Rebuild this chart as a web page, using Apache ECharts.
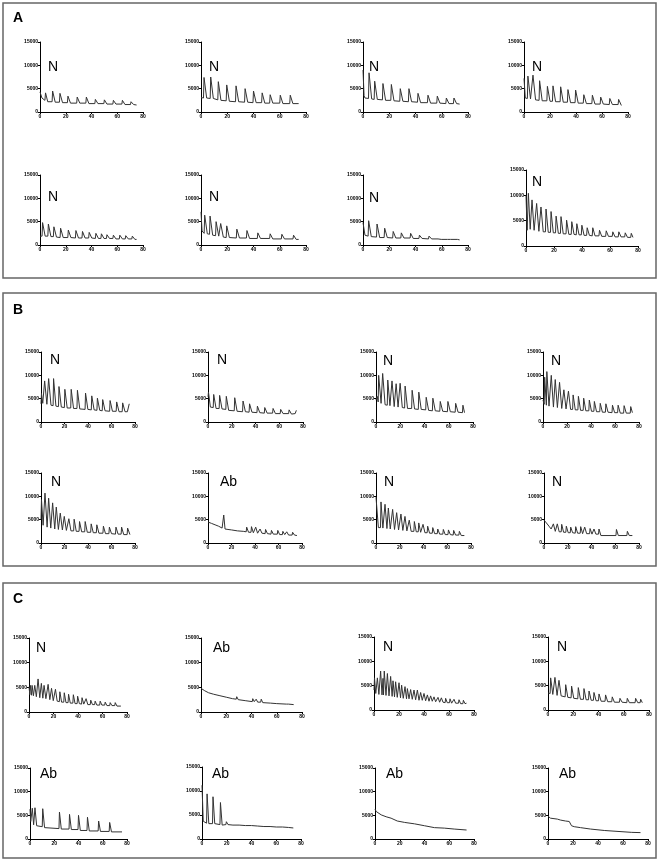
<!DOCTYPE html>
<html><head><meta charset="utf-8">
<script src="https://cdn.jsdelivr.net/npm/echarts@6/dist/echarts.min.js"></script>
<style>html,body{margin:0;padding:0;background:#fff}#c{width:662px;height:864px}</style>
</head><body><div id="c"></div>
<script>
const xTicks = [0, 20, 40, 60, 80];
const yTicks = [0, 5000, 10000, 15000];
const panelLetters = ['A', 'B', 'C'];
const labelsA = ['N','N','N','N','N','N','N','N'];
const labelsB = ['N','N','N','N','N','Ab','N','N'];
const labelsC = ['N','Ab','N','N','Ab','Ab','Ab','Ab'];

const A1 = [[0,4300],[1.5,3000],[2.5,2600],[3.8,2500],[4.3,4100],[6,2200],[9.4,2200],[9.8,4500],[11.8,2100],[15.1,2100],[15.5,4000],[17.5,2000],[21.3,2000],[21.7,3400],[23.7,1900],[28.5,1900],[28.9,3200],[30.9,1900],[35.6,1900],[36,3200],[38,1800],[42.6,1800],[43,2700],[45,1800],[49.6,1800],[50,2600],[52,1700],[56.6,1700],[57,2500],[59,1700],[63.6,1700],[64,2500],[66,1600],[70.3,1600],[70.7,2200],[72.7,1600],[75,1500]];
const A2 = [[0,3100],[1.9,3000],[2.3,7400],[4.3,3000],[7,2900],[7.4,7500],[9.4,2900],[12.8,2600],[13.2,6500],[15.2,2500],[19.2,2400],[19.6,5800],[21.6,2300],[26.3,2200],[26.7,5600],[28.7,2200],[33.2,2100],[33.6,5000],[35.6,2100],[39.6,2000],[40,4500],[42,2000],[46.2,2000],[46.6,4100],[48.6,1900],[52.3,1900],[52.7,3700],[54.7,1900],[60,1900],[60.4,3600],[62.4,1800],[67.6,1800],[68,3600],[70,1800],[74.4,1800]];
const A3 = [[0,9000],[0.8,3500],[1.5,3000],[4.2,2900],[4.6,8400],[6.6,2800],[8.5,2700],[8.9,6600],[10.9,2700],[14.8,2600],[15.2,6100],[17.2,2500],[21.2,2500],[21.6,5900],[23.6,2400],[28,2300],[28.4,5000],[30.4,2300],[34.6,2200],[35,5000],[37,2200],[41.5,2100],[41.9,4000],[43.9,2000],[49.1,2000],[49.5,3600],[51.5,1900],[56.2,1900],[56.6,3400],[58.6,1900],[63.1,1800],[63.5,3000],[65.5,1800],[68.9,1800],[69.3,3000],[71.3,1800],[73.6,1700]];
const A4 = [[0,7200],[1,3000],[2.6,2900],[3,7700],[5,2800],[6.5,2700],[6.9,7900],[8.9,2600],[11.6,2500],[12,6700],[14,2400],[17.6,2400],[18,5500],[20,2300],[21.9,2300],[22.3,5600],[24.3,2200],[27.8,2200],[28.2,5400],[30.2,2100],[33.4,2100],[33.8,4800],[35.8,2000],[39.3,2000],[39.7,4700],[41.7,1900],[45.6,1900],[46,3700],[48,1800],[52.2,1800],[52.6,3600],[54.6,1700],[58.6,1700],[59,3200],[61,1700],[65.6,1600],[66,2900],[68,1600],[72.4,1600],[72.8,2700],[74.9,1400]];
const A5 = [[0,1900],[1.6,1900],[2,4800],[4,1900],[6.1,1900],[6.5,4500],[8.5,1800],[10.4,1800],[10.8,3900],[12.8,1700],[15.6,1600],[16,3600],[18,1600],[21.6,1600],[22,3200],[24,1600],[27.5,1500],[27.9,3100],[29.9,1500],[32.6,1500],[33,2900],[35,1500],[37.8,1500],[38.2,2700],[40.2,1500],[43,1400],[43.4,2500],[45.4,1400],[47.3,1400],[47.7,2400],[49.7,1400],[51.6,1400],[52,2200],[54,1400],[56.6,1400],[57,2100],[59,1300],[61.6,1300],[62,2100],[64,1300],[66.2,1300],[66.6,2000],[68.6,1300],[71.3,1300],[71.7,1900],[73.7,1200],[75,1200]];
const A6 = [[0,7100],[0.8,3000],[2.4,2500],[2.8,6400],[4.8,2400],[6.5,2300],[6.9,6200],[8.9,2100],[11.1,2000],[11.5,5000],[13.5,1900],[14.6,1900],[15,4600],[17,1700],[19.2,1600],[19.6,4100],[21.6,1600],[26.9,1500],[27.3,3400],[29.3,1500],[34.6,1500],[35,3100],[37,1400],[42.9,1400],[43.3,2600],[45.3,1400],[52.3,1400],[52.7,2400],[54.7,1300],[61.2,1300],[61.6,2300],[63.6,1300],[70.1,1300],[70.5,2100],[72.5,1200],[74.4,1200]];
const A7 = [[0,4800],[1.5,2100],[3.9,1900],[4.3,5200],[6.3,1800],[10.3,1700],[10.7,4500],[12.7,1600],[16.1,1600],[16.5,3600],[18.5,1600],[22.6,1500],[23,2900],[25,1500],[28.8,1500],[29.2,2600],[31.2,1500],[35.9,1500],[36.3,2500],[38.3,1400],[42.6,1400],[43,2100],[45,1400],[49.9,1300],[50.3,1900],[52.3,1300],[57.2,1300],[57.6,1600],[59.6,1200],[64.3,1200],[64.7,1600],[66.7,1200],[71.9,1200],[72.3,1500],[73.6,1100]];
const A8 = [[0,10000],[0.8,3100],[1.3,3200],[1.7,10400],[3,3300],[3.9,3200],[4.3,9100],[5.8,3100],[7.2,3000],[7.6,8400],[9.2,2900],[10.3,2900],[10.7,7700],[12.3,2800],[13.9,2800],[14.3,7300],[15.9,2700],[17.5,2700],[17.9,6800],[19.5,2600],[21.1,2600],[21.5,5900],[23.1,2500],[24.6,2500],[25,5800],[26.6,2400],[28.6,2400],[29,5100],[30.6,2300],[32.3,2300],[32.7,4800],[34.3,2300],[35.9,2200],[36.3,4400],[37.9,2200],[39.5,2200],[39.9,4100],[41.5,2100],[43.3,2100],[43.7,3600],[45.3,2100],[47.3,2000],[47.7,3600],[49.3,2000],[52.1,2000],[52.5,3100],[54.1,1900],[56.9,1900],[57.3,3000],[58.9,1900],[61.6,1900],[62,2800],[63.6,1800],[65.9,1800],[66.3,2800],[67.9,1800],[70.5,1800],[70.9,2600],[72.5,1700],[74.8,1700],[75.2,2500],[76.4,1700]];

const B1 = [[0,3900],[0.4,6100],[1.5,4000],[2.7,3900],[3.1,8800],[5,3800],[6.1,3700],[6.5,9300],[8.5,3600],[10.3,3500],[10.7,9300],[12.7,3400],[14.9,3300],[15.3,7600],[17.3,3200],[19.9,3100],[20.3,7000],[22.3,3000],[25.3,3000],[25.7,7000],[27.7,2900],[30.6,2900],[31,6800],[33,2800],[37.5,2700],[37.9,6200],[39.9,2700],[42.8,2600],[43.2,5600],[45.2,2600],[47.6,2500],[48,5100],[50,2500],[52.1,2400],[52.5,4800],[54.5,2400],[58.4,2300],[58.8,4600],[60.8,2300],[64,2300],[64.4,4300],[66.4,2200],[69.1,2200],[69.5,4100],[71.5,2200],[73.5,2200],[75.1,3900]];
const B2 = [[0,5400],[0.4,6400],[2,3200],[4.4,3100],[4.8,5900],[6.8,2900],[9.4,2900],[9.8,5700],[11.8,2800],[15,2700],[15.4,5500],[17.4,2500],[22.1,2400],[22.5,5200],[24.5,2300],[29.1,2200],[29.5,4500],[31.5,2200],[34.6,2100],[35,3900],[37,2100],[41.2,2000],[41.6,3400],[43.6,2000],[47.4,1900],[47.8,3100],[49.8,1900],[54.4,1900],[54.8,2900],[56.8,1800],[60.8,1800],[61.2,2700],[63.2,1800],[67.9,1800],[68.3,2600],[70.3,1700],[73.4,1800],[74.4,2500]];
const B3 = [[0,4700],[1,5500],[1.8,4300],[2.2,10000],[4.2,4000],[5.1,3900],[5.5,10400],[7.5,3700],[9.3,3600],[9.7,9000],[11.5,3500],[12.8,3400],[13.2,8800],[15,3300],[16.2,3300],[16.6,8200],[18.2,3200],[19.5,3200],[19.9,8300],[21.7,3100],[23.6,3000],[24,7700],[26,2900],[29.4,2900],[29.8,6800],[31.8,2800],[34.9,2700],[35.3,6400],[37.3,2700],[41,2600],[41.4,5300],[43.4,2500],[46.5,2400],[46.9,5100],[48.9,2400],[52.6,2300],[53,4400],[55,2300],[58.9,2200],[59.3,4400],[61.3,2200],[65.3,2100],[65.7,4000],[67.7,2100],[71.3,2000],[71.7,3600],[73,2000]];
const B4 = [[0,4700],[1,3800],[1.4,9600],[2.8,3600],[3.2,10800],[5,3400],[6.5,3300],[6.9,10000],[8.7,3200],[9.8,3200],[10.2,9100],[12,3100],[13.4,3000],[13.8,8500],[15.6,2900],[17,2900],[17.4,6900],[19.2,2800],[20.8,2800],[21.2,6600],[23,2700],[24.7,2700],[25.1,5800],[26.9,2600],[29.1,2600],[29.5,5500],[31.3,2500],[33.5,2500],[33.9,5100],[35.7,2400],[38.2,2400],[38.6,4700],[40.4,2300],[42.4,2300],[42.8,4400],[44.6,2200],[47.3,2200],[47.7,4000],[49.5,2100],[52,2100],[52.4,3900],[54.2,2100],[57.5,2000],[57.9,3600],[59.7,2000],[62.2,2000],[62.6,3600],[64.4,1900],[67.2,1900],[67.6,3500],[69.4,1900],[72.7,1900],[73.1,3300],[74.5,2000]];
const B5 = [[0,5000],[0.4,9300],[1.8,3800],[3,3600],[3.4,10700],[5.2,3400],[6.1,3300],[6.5,9600],[8.3,3200],[9.5,3100],[9.9,8600],[11.7,3000],[12.6,3000],[13,7700],[14.8,2900],[16,2900],[16.4,6400],[18.2,2800],[19.4,2800],[19.8,5700],[21.6,2700],[23.3,2700],[23.7,5200],[25.5,2600],[27.8,2600],[28.2,5100],[30,2500],[32.4,2500],[32.8,4600],[34.6,2400],[37.2,2400],[37.6,4600],[39.4,2300],[42.3,2300],[42.7,4100],[44.5,2200],[47.1,2200],[47.5,3900],[49.3,2100],[52.7,2100],[53.1,3600],[54.9,2000],[57.8,2000],[58.2,3400],[60,2000],[63.4,1900],[63.8,3400],[65.6,1900],[68.2,1900],[68.6,3400],[70.4,1800],[73.3,1800],[73.7,3200],[75.7,1800]];
const B6 = [[0,4500],[3,4200],[6,3900],[9,3600],[12,3200],[13,3100],[13.4,6000],[14.5,3000],[17,2900],[20,2800],[25,2600],[30,2500],[32.5,2400],[32.9,3400],[34.5,2300],[36.6,2300],[37,3500],[38.6,2200],[40.2,2200],[40.6,3400],[42.2,2100],[43.9,2100],[44.3,3000],[45.9,2100],[48.6,2000],[49,2900],[50.6,2000],[53.6,1900],[54,2700],[55.6,1900],[59,1900],[59.4,2700],[61,1800],[63.3,1800],[63.7,2500],[65.3,1800],[66.6,1800],[67,2400],[68.6,1700],[71.6,1700],[72,2300],[73.6,1700],[75.7,1600]];
const B7 = [[0,9800],[0.6,9900],[2,3300],[3.8,3300],[4.2,8800],[5.8,3200],[7.2,3200],[7.6,8300],[9.2,3100],[10,3100],[10.4,7500],[12,3000],[13.6,3000],[14,7200],[15.6,2900],[17,2900],[17.4,6500],[19,2800],[20.6,2800],[21,6200],[22.6,2700],[24,2700],[24.4,5700],[26,2600],[27.6,2600],[28,4900],[29.6,2500],[31.9,2500],[32.3,4600],[33.9,2400],[35.6,2400],[36,4300],[37.6,2300],[39.2,2300],[39.6,4000],[41.2,2200],[43.1,2200],[43.5,3600],[45.1,2100],[47.4,2100],[47.8,3300],[49.4,2000],[51.6,2000],[52,3000],[53.6,1900],[56.3,1900],[56.7,2900],[58.3,1800],[60.6,1800],[61,2800],[62.6,1800],[65,1700],[65.4,2700],[67,1700],[69.8,1700],[70.2,2500],[71.8,1600],[74.4,1600]];
const B8 = [[0,4900],[2,4300],[4.2,3600],[6,3000],[7.5,2800],[7.9,4100],[9.5,2500],[10.8,2400],[11.2,4100],[12.8,2400],[14.5,2400],[14.9,4000],[16.5,2300],[18.4,2300],[18.8,3600],[20.4,2200],[22.1,2200],[22.5,3400],[24.1,2200],[26.3,2100],[26.7,3500],[28.3,2100],[30.5,2100],[30.9,3500],[32.5,2000],[33.9,2000],[34.3,3400],[35.9,2000],[38.4,2000],[38.8,3100],[40.4,1900],[41.7,1900],[42.1,3000],[43.7,1900],[45.9,1900],[46.3,3000],[47.9,1600],[60.6,1600],[61,2900],[62.6,1600],[69.8,1600],[70.2,2500],[71.8,1600],[74.4,1600]];

const C1 = [[0,5100],[0.7,3500],[1.1,5400],[2.1,3400],[2.5,5400],[3.6,3300],[4.3,3200],[4.7,5400],[6,3100],[7,3000],[7.4,6700],[8.8,2900],[9.7,2900],[10.1,5800],[11.3,2800],[11.9,2800],[12.3,5400],[13.8,2700],[15.2,2600],[15.6,5600],[17,2500],[18,2400],[18.4,4800],[19.8,2300],[21.2,2300],[21.6,4600],[23,2200],[24.8,2100],[25.2,4100],[26.6,2000],[28.4,2000],[28.8,3900],[30.2,1900],[31.9,1900],[32.3,3600],[33.7,1800],[35.8,1800],[36.2,3500],[37.6,1700],[39.3,1700],[39.7,3200],[41.1,1700],[42.9,1600],[43.3,2900],[44.7,1600],[46.2,1600],[46.6,2700],[48,1500],[50,1500],[50.4,2400],[51.8,1500],[53.6,1500],[54,2200],[55.4,1400],[57.7,1400],[58.1,2200],[59.5,1400],[61.8,1400],[62.2,2000],[63.6,1300],[65.9,1300],[66.3,1900],[67.7,1300],[70,1300],[70.4,1900],[71.8,1200],[75,1200]];
const C2 = [[0,4800],[3,4300],[6,3900],[10,3600],[15,3300],[20,3000],[25,2700],[27.9,2600],[28.3,3100],[29.5,2500],[35,2300],[40.6,2100],[41,2700],[42.2,2100],[43.3,2100],[43.7,2600],[44.9,2000],[47.3,2000],[47.7,2600],[48.9,1900],[55,1800],[60,1700],[67.6,1600],[68,2000],[69.2,1600],[73.4,1500]];
const C3 = [[0,4100],[0.4,6600],[1.4,3400],[2.3,3400],[2.7,6600],[3.9,3200],[4.9,3200],[5.3,8000],[6.4,3100],[6.8,3100],[7.2,6500],[7.6,3100],[7.8,3100],[8.2,8000],[9.6,3000],[10.3,3000],[10.7,7500],[12,2900],[12.9,2900],[13.3,6900],[14.5,2800],[14.8,2800],[15.2,6000],[16.4,2700],[16.9,2700],[17.3,5800],[18.6,2600],[19.6,2600],[20,5600],[21.2,2500],[21.7,2500],[22.1,5100],[23.4,2400],[24.4,2400],[24.8,4800],[26,2300],[26.3,2300],[26.7,4400],[28,2300],[28.9,2200],[29.3,4200],[30.6,2200],[31.6,2100],[32,4100],[33.3,2100],[34.3,2100],[34.7,4100],[36,2000],[36.9,2000],[37.3,3600],[38.6,2000],[39.6,1900],[40,3400],[41.3,1900],[42.3,1900],[42.7,3100],[44,1800],[44.9,1800],[45.3,2900],[46.6,1800],[47.6,1700],[48,2700],[49.3,1700],[50.8,1700],[51.2,2600],[52.5,1600],[53.5,1600],[53.9,2500],[55.2,1600],[56.9,1500],[57.3,2400],[58.6,1500],[60.4,1500],[60.8,2300],[62.1,1400],[63.6,1400],[64,2200],[65.3,1400],[67.6,1400],[68,2100],[69.3,1300],[71.1,1300],[71.5,2000],[72.8,1300],[74,1400]];
const C4 = [[0,3500],[1.7,3400],[2.1,6600],[3.8,3200],[5.1,3100],[5.5,6700],[7.2,3000],[8.3,3000],[8.7,6100],[10.4,2900],[13.6,2700],[14,5200],[15.7,2600],[18.3,2500],[18.7,4900],[20.4,2400],[23.6,2300],[24,4600],[25.7,2200],[28.1,2200],[28.5,4400],[30.2,2100],[32.1,2100],[32.5,3900],[34.2,2000],[36,2000],[36.4,3600],[38.1,1900],[40,1900],[40.4,3300],[42.1,1800],[45.2,1800],[45.6,3100],[47.3,1700],[50.5,1700],[50.9,2700],[52.6,1600],[56.6,1600],[57,2400],[58.7,1600],[62.4,1500],[62.8,2400],[64.5,1500],[69,1500],[69.4,2400],[71.1,1500],[73,1500],[73.4,2200],[74.7,1500]];
const C5 = [[0,6300],[0.6,3700],[1.5,3300],[1.9,6500],[3,3000],[3.7,3000],[4.1,6600],[5.5,2800],[10.1,2600],[10.5,6400],[12,2400],[23.9,2200],[24.3,5700],[25.8,2100],[32.2,2100],[32.6,5200],[34.1,2000],[39.6,2000],[40,5000],[41.5,1800],[47,1800],[47.4,4600],[48.9,1700],[56.2,1700],[56.6,3800],[58.1,1600],[65.3,1600],[65.7,3500],[67.2,1500],[75.9,1500]];
const C6 = [[0,11200],[1,3700],[3.7,3300],[4.1,9400],[5.5,3200],[8.5,3200],[8.9,8800],[10.3,3200],[14.5,3000],[14.9,7600],[16.3,2900],[19.3,3000],[19.7,3600],[21,3000],[25,2900],[30,2900],[35,2800],[40,2800],[45,2700],[50,2600],[55,2600],[60,2500],[65,2500],[70,2400],[73.8,2300]];
const C7 = [[0,6300],[1,5800],[2,5500],[5,5100],[9,4700],[13,4400],[18,3800],[24,3500],[32,3200],[40,2800],[48,2400],[56,2300],[64,2100],[74,1900]];
const C8 = [[0,4800],[2,4400],[7.5,4200],[10,4000],[14,3800],[17,3700],[18.3,3500],[18.8,2800],[21,2600],[26,2400],[34,2100],[45,1800],[56,1600],[67,1400],[74,1350]];

const traces = [A1,A2,A3,A4,A5,A6,A7,A8,B1,B2,B3,B4,B5,B6,B7,B8,C1,C2,C3,C4,C5,C6,C7,C8];
const labels = labelsA.concat(labelsB, labelsC);

// layout: grid [left, top, width, height], label offset [dx, dy]
const layout = [
  [40,42,103,70, 8,25],[201,42,105,70, 8,25],[363,42,105,70, 6,25],[524,42,104,70, 8,25],
  [40,175,103,70, 8,22],[201,175,105,70, 8,22],[363,175,105,70, 6,23],[526,170,112,76, 6,12],
  [41,352,94,70, 9,8],[208,352,95,70, 9,8],[376,352,97,70, 7,9],[543,352,96,70, 8,9],
  [41,473,94,70, 10,9],[208,473,94,70, 12,9],[376,473,95,70, 8,9],[544,473,95,70, 8,9],
  [29,638,98,74, 7,10],[201,638,101,74, 12,10],[374,637,100,73, 9,10],[548,637,101,73, 9,10],
  [30,768,97,71, 10,6],[202,767,99,72, 10,7],[375,768,99,71, 11,6],[548,768,100,71, 11,6]
];
const panels = [[3,3,653,275],[3,293,653,273],[3,583,653,275]];
const letterPos = [[13,18],[13,310],[13,599]];

const grids = [], xAxes = [], yAxes = [], series = [], graphics = [];
const lab = {fontSize:5, fontWeight:'bold', color:'#000', fontFamily:'Liberation Sans, Arial', margin:2, formatter: v => String(v)};
traces.forEach((d, i) => {
  const L = layout[i];
  grids.push({left:L[0], top:L[1], width:L[2], height:L[3], outerBoundsMode:'none'});
  xAxes.push({gridIndex:i, type:'value', min:xTicks[0], max:xTicks[xTicks.length-1], interval:xTicks[1]-xTicks[0],
    axisLine:{show:true, onZero:false, lineStyle:{color:'#000', width:1}},
    axisTick:{show:true, length:2, lineStyle:{color:'#000'}},
    axisLabel:lab, splitLine:{show:false}});
  yAxes.push({gridIndex:i, type:'value', min:yTicks[0], max:yTicks[yTicks.length-1], interval:yTicks[1]-yTicks[0],
    axisLine:{show:true, onZero:false, lineStyle:{color:'#000', width:1}},
    axisTick:{show:true, length:2, lineStyle:{color:'#000'}},
    axisLabel:lab, splitLine:{show:false}});
  series.push({type:'line', xAxisIndex:i, yAxisIndex:i, data:d, showSymbol:false, symbol:'none',
    lineStyle:{color:'#333', width:1}, silent:true});
  graphics.push({type:'text', x:L[0]+L[4], y:L[1]+L[5],
    style:{text:labels[i], fill:'#000', font:'14px "Liberation Sans", Arial, sans-serif', textVerticalAlign:'middle'}});
});
panels.forEach((p, k) => {
  graphics.push({type:'rect', shape:{x:p[0], y:p[1], width:p[2], height:p[3]},
    style:{fill:'none', stroke:'#666', lineWidth:1.5}});
  graphics.push({type:'text', x:letterPos[k][0], y:letterPos[k][1],
    style:{text:panelLetters[k], fill:'#000', font:'bold 14px "Liberation Sans", Arial, sans-serif', textVerticalAlign:'middle'}});
});

const chart = echarts.init(document.getElementById('c'), null, {renderer:'canvas'});
chart.setOption({backgroundColor:'#fff', animation:false, grid:grids, xAxis:xAxes, yAxis:yAxes, series:series, graphic:graphics});
</script></body></html>
